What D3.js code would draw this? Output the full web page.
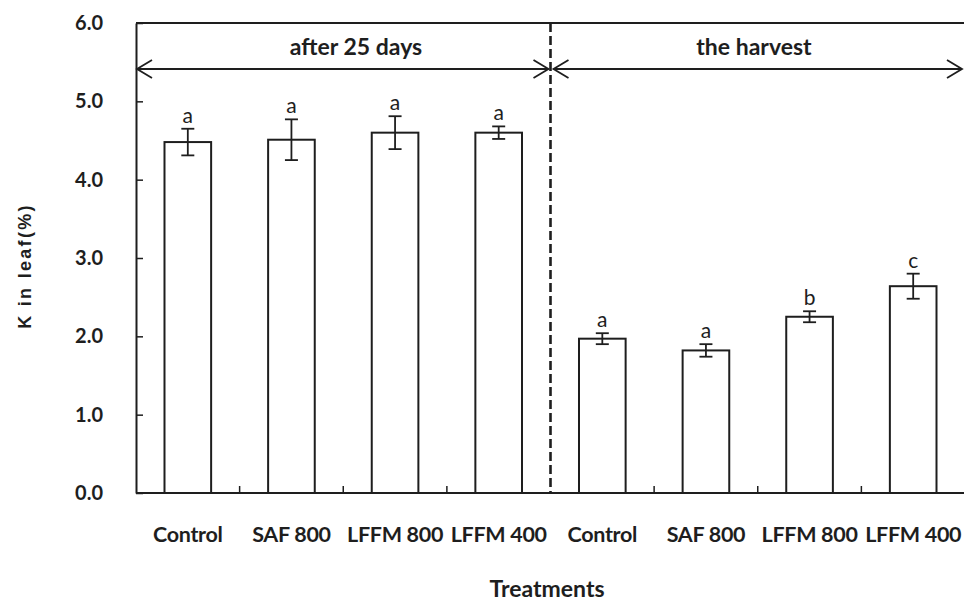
<!DOCTYPE html>
<html>
<head>
<meta charset="utf-8">
<script src="https://cdn.jsdelivr.net/npm/d3@7"></script>
<style>
  html, body { margin: 0; padding: 0; background: #fff; }
  svg { display: block; }
</style>
</head>
<body>
<svg id="chart" width="964" height="601"></svg>
<script>
// ---- data ----
const groups = ["after 25 days", "the harvest"];
const treatments = ["Control", "SAF 800", "LFFM 800", "LFFM 400"];
const after25 = [4.48, 4.51, 4.60, 4.60];
const after25Err = [0.17, 0.26, 0.21, 0.08];
const after25Letters = ["a", "a", "a", "a"];
const harvest = [1.97, 1.82, 2.25, 2.64];
const harvestErr = [0.07, 0.08, 0.07, 0.16];
const harvestLetters = ["a", "a", "b", "c"];
const yTicks = [0, 1, 2, 3, 4, 5, 6];
const yTitle = "K in leaf(%)";
const xTitle = "Treatments";

// build rows
const rows = [];
treatments.forEach((t, i) => rows.push({ key: "g0-" + i, label: t, group: 0, value: after25[i], err: after25Err[i], letter: after25Letters[i] }));
treatments.forEach((t, i) => rows.push({ key: "g1-" + i, label: t, group: 1, value: harvest[i], err: harvestErr[i], letter: harvestLetters[i] }));

const svg = d3.select("#chart");
const pL = 136, pR = 965, pT = 23, pB = 493;
const ink = "#1e1e1e";
const boldFont = "Lato, 'Open Sans', sans-serif";

const x = d3.scaleBand().domain(rows.map(d => d.key)).range([pL, pR])
  .paddingInner(0.55).paddingOuter(0.275);
const y = d3.scaleLinear().domain([0, 6]).range([pB, pT]);

// frame: top line
svg.append("line").attr("x1", pL).attr("x2", pR).attr("y1", y(6)).attr("y2", y(6))
  .attr("stroke", ink).attr("stroke-width", 2);

// y axis
const yAxis = d3.axisLeft(y).tickValues(yTicks).tickFormat(d3.format(".1f"))
  .tickSizeInner(-7).tickSizeOuter(0).tickPadding(33);
const gy = svg.append("g").attr("transform", `translate(${pL},0)`).call(yAxis);
gy.select(".domain").attr("stroke", ink).attr("stroke-width", 2);
gy.selectAll(".tick line").attr("stroke", ink).attr("stroke-width", 1.5);
gy.selectAll(".tick text").attr("fill", ink).style("font-family", boldFont)
  .style("font-weight", "bold").style("font-size", "20px");

// x axis (labels, ticks at boundaries)
const xAxis = d3.axisBottom(x).tickFormat(k => rows.find(r => r.key === k).label)
  .tickSize(0).tickPadding(34);
const gx = svg.append("g").attr("transform", `translate(0,${pB})`).call(xAxis);
gx.select(".domain").remove();
gx.selectAll(".tick text").attr("fill", ink).style("font-family", boldFont)
  .style("font-weight", "bold").style("font-size", "21.5px").style("letter-spacing", "-0.3px");
svg.append("line").attr("x1", pL).attr("x2", pR).attr("y1", pB).attr("y2", pB)
  .attr("stroke", ink).attr("stroke-width", 2);

const boundaries = rows.slice(0, -1).map(d => x(d.key) + x.bandwidth() / 2 + x.step() / 2);
svg.selectAll(".xtick").data(boundaries.filter((b, i) => i !== 3)).join("line")
  .attr("x1", d => d).attr("x2", d => d).attr("y1", pB).attr("y2", pB - 7)
  .attr("stroke", ink).attr("stroke-width", 1.5);

// bars
svg.selectAll(".bar").data(rows).join("rect")
  .attr("x", d => x(d.key)).attr("width", x.bandwidth())
  .attr("y", d => y(d.value)).attr("height", d => y(0) - y(d.value))
  .attr("fill", "#fff").attr("stroke", ink).attr("stroke-width", 2);

// error bars
const cap = 6.5;
const eb = svg.selectAll(".eb").data(rows).join("g").attr("stroke", ink).attr("stroke-width", 1.8);
eb.append("line").attr("x1", d => x(d.key) + x.bandwidth() / 2).attr("x2", d => x(d.key) + x.bandwidth() / 2)
  .attr("y1", d => y(d.value + d.err)).attr("y2", d => y(d.value - d.err));
eb.append("line").attr("x1", d => x(d.key) + x.bandwidth() / 2 - cap).attr("x2", d => x(d.key) + x.bandwidth() / 2 + cap)
  .attr("y1", d => y(d.value + d.err)).attr("y2", d => y(d.value + d.err));
eb.append("line").attr("x1", d => x(d.key) + x.bandwidth() / 2 - cap).attr("x2", d => x(d.key) + x.bandwidth() / 2 + cap)
  .attr("y1", d => y(d.value - d.err)).attr("y2", d => y(d.value - d.err));

// letters
svg.selectAll(".letter").data(rows).join("text")
  .attr("x", d => x(d.key) + x.bandwidth() / 2).attr("y", d => y(d.value + d.err) - 6)
  .attr("text-anchor", "middle").attr("fill", ink)
  .style("font-family", boldFont).style("font-size", "21px").text(d => d.letter);

// dashed divider
const mid = boundaries[3];
svg.append("line").attr("x1", mid).attr("x2", mid).attr("y1", y(6)).attr("y2", pB)
  .attr("stroke", ink).attr("stroke-width", 2.6).attr("stroke-dasharray", "9,4");

// arrows
const arrowY = 69;
const spans = [[pL + 1, mid - 2], [mid + 3, 962]];
function head(xTip, dir) {
  svg.append("path")
    .attr("d", `M${xTip - dir * 15},${arrowY - 9} L${xTip},${arrowY} L${xTip - dir * 15},${arrowY + 9}`)
    .attr("fill", "none").attr("stroke", ink).attr("stroke-width", 1.8);
}
spans.forEach((s, i) => {
  svg.append("line").attr("x1", s[0]).attr("x2", s[1]).attr("y1", arrowY).attr("y2", arrowY)
    .attr("stroke", ink).attr("stroke-width", 2);
  head(s[0], -1);
  head(s[1], 1);
});
// group labels
const groupCenters = [356, 754];
svg.selectAll(".glabel").data(groups).join("text")
  .attr("x", (d, i) => groupCenters[i]).attr("y", 55).attr("text-anchor", "middle")
  .attr("fill", ink).style("font-family", boldFont).style("font-weight", "bold").style("font-size", "23px")
  .text(d => d);

// axis titles
svg.append("text").attr("transform", `translate(31,266) rotate(-90)`).attr("text-anchor", "middle")
  .attr("fill", ink).style("font-family", "'Liberation Sans', Arial, sans-serif").style("font-weight", "bold")
  .style("font-size", "18px").style("letter-spacing", "2.3px").text(yTitle);
svg.append("text").attr("x", 547).attr("y", 597).attr("text-anchor", "middle")
  .attr("fill", ink).style("font-family", boldFont).style("font-weight", "bold").style("font-size", "23px")
  .text(xTitle);
</script>
</body>
</html>
